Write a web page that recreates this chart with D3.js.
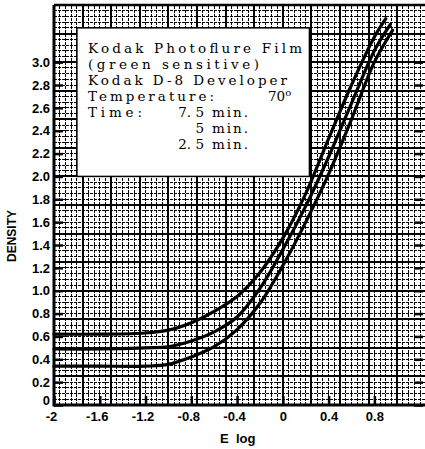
<!DOCTYPE html>
<html>
<head>
<meta charset="utf-8">
<script src="https://cdn.jsdelivr.net/npm/d3@7"></script>
<style>
  body { margin: 0; background: #fff; }
  svg { display: block; }
</style>
</head>
<body>
<div id="chart"></div>
<script>
// tick labels
const xTicks = [-2, -1.6, -1.2, -0.8, -0.4, 0, 0.4, 0.8];
const xTickLabels = ["-2", "-1.6", "-1.2", "-0.8", "-0.4", "0", "0.4", "0.8"];
const yTicks = [0, 0.2, 0.4, 0.6, 0.8, 1.0, 1.2, 1.4, 1.6, 1.8, 2.0, 2.2, 2.4, 2.6, 2.8, 3.0];
const yTickLabels = ["0", "0.2", "0.4", "0.6", "0.8", "1.0", "1.2", "1.4", "1.6", "1.8",
  "2.0", "2.2", "2.4", "2.6", "2.8", "3.0"];

// 7.5 min development
const logE75 = [-2.0, -1.6, -1.2, -1.0, -0.8, -0.6, -0.4, -0.2, 0.0, 0.2, 0.4, 0.6, 0.8, 0.90];
const dens75 = [0.62, 0.62, 0.63, 0.655, 0.72, 0.82, 0.95, 1.16, 1.46, 1.85, 2.33, 2.80, 3.22, 3.38];
// 5 min development
const logE5 = [-2.0, -1.6, -1.2, -1.0, -0.8, -0.6, -0.4, -0.2, 0.0, 0.2, 0.4, 0.6, 0.8, 0.94];
const dens5 = [0.49, 0.49, 0.50, 0.51, 0.56, 0.64, 0.77, 1.02, 1.36, 1.74, 2.17, 2.64, 3.10, 3.33];
// 2.5 min development
const logE25 = [-2.0, -1.6, -1.2, -1.0, -0.8, -0.6, -0.4, -0.2, 0.0, 0.2, 0.4, 0.6, 0.8, 0.96];
const dens25 = [0.34, 0.34, 0.34, 0.355, 0.42, 0.51, 0.66, 0.89, 1.22, 1.60, 2.02, 2.50, 3.00, 3.28];

const legendLines = [
  "Kodak Photoflure Film",
  "(green sensitive)",
  "Kodak D-8 Developer"
];
const times = ["7. 5", "5", "2. 5"];

const W = 425, H = 449;
const svg = d3.select("#chart").append("svg").attr("width", W).attr("height", H);

// scales
const x = d3.scaleLinear().domain([-2, 1.225]).range([54, 423]);
const y = d3.scaleLinear().domain([0, 3.5]).range([405, 5]);

// graph paper grid
const grid = svg.append("g").attr("shape-rendering", "crispEdges");
for (let i = 0; i <= 64; i++) {
  const v = -2 + i * 0.05;
  const major = i % 5 === 0;
  grid.append("line")
    .attr("x1", x(v)).attr("x2", x(v))
    .attr("y1", y(0)).attr("y2", y(3.5))
    .attr("stroke", "#000")
    .attr("stroke-width", major ? 2 : 1)
    .attr("stroke-dasharray", major ? null : "3,1");
}
for (let j = 0; j <= 70; j++) {
  const v = j * 0.05;
  const major = j % 5 === 0;
  grid.append("line")
    .attr("x1", x(-2)).attr("x2", W)
    .attr("y1", y(v)).attr("y2", y(v))
    .attr("stroke", "#000")
    .attr("stroke-width", major ? 2 : 1)
    .attr("stroke-dasharray", major ? null : "3,1");
}

// white label box pasted on the paper
svg.append("rect")
  .attr("x", x(-1.8)).attr("y", y(3.3))
  .attr("width", x(0.25) - x(-1.8) - 2)
  .attr("height", y(2.0) - y(3.3))
  .attr("fill", "#fff")
  .attr("stroke", "#000")
  .attr("stroke-width", 1.5);

// curves
const line = d3.line()
  .x(d => x(d[0]))
  .y(d => y(d[1]))
  .curve(d3.curveCatmullRom.alpha(0.5));

[[logE75, dens75], [logE5, dens5], [logE25, dens25]].forEach(function (s) {
  const pts = s[0].map((v, i) => [v, s[1][i]]);
  svg.append("path")
    .datum(pts)
    .attr("d", line)
    .attr("fill", "none")
    .attr("stroke", "#000")
    .attr("stroke-width", 3.2)
    .attr("stroke-linecap", "round");
});

// axes
const left = svg.append("g")
  .attr("transform", `translate(${x(-2)},0)`)
  .call(d3.axisLeft(y).tickValues(yTicks).tickFormat((d, i) => yTickLabels[i])
    .tickSizeInner(-9).tickSizeOuter(0).tickPadding(4));
left.select(".domain").remove();
left.selectAll("line").attr("stroke-width", 2.5);
left.selectAll("text").attr("dy", d => d === 0 ? "-0.05em" : "0.32em");

svg.append("g")
  .attr("transform", `translate(${W - 2},0)`)
  .call(d3.axisRight(y).tickValues(yTicks).tickFormat("")
    .tickSizeInner(-9).tickSizeOuter(0))
  .call(g => g.select(".domain").remove())
  .selectAll("line").attr("stroke-width", 2.5);

const bottom = svg.append("g")
  .attr("transform", `translate(0,${y(0)})`)
  .call(d3.axisBottom(x).tickValues(xTicks).tickFormat((d, i) => xTickLabels[i])
    .tickSizeInner(-9).tickSizeOuter(0).tickPadding(7));
bottom.select(".domain").remove();
bottom.selectAll("line").attr("stroke-width", 2.5);
bottom.selectAll("text").attr("dx", d => d < 0 ? -3 : 0);

svg.selectAll(".tick text")
  .attr("font-family", "Liberation Sans, Arial, sans-serif")
  .attr("font-weight", "bold")
  .attr("font-size", 13)
  .attr("fill", "#000");

// frame
svg.append("path")
  .attr("d", `M${x(-2)},${y(3.5)}V${y(0)}H${W}`)
  .attr("fill", "none")
  .attr("stroke", "#000")
  .attr("stroke-width", 3);
svg.append("line")
  .attr("x1", x(-2)).attr("x2", W)
  .attr("y1", y(3.5)).attr("y2", y(3.5))
  .attr("stroke", "#000").attr("stroke-width", 2.5);

// axis titles
svg.append("text")
  .attr("transform", "translate(16,236) rotate(-90)")
  .attr("text-anchor", "middle")
  .attr("font-family", "Liberation Sans, Arial, sans-serif")
  .attr("font-weight", "bold")
  .attr("font-size", 12)
  .text("DENSITY");

svg.append("text")
  .attr("x", 220).attr("y", 443)
  .attr("font-family", "Liberation Sans, Arial, sans-serif")
  .attr("font-weight", "bold")
  .attr("font-size", 13)
  .attr("xml:space", "preserve")
  .text("E  log");

// legend text
const legend = svg.append("g")
  .attr("font-family", "DejaVu Serif, Liberation Serif, serif")
  .attr("font-size", 13.5)
  .attr("fill", "#000");

const widths = [214, 171, 199];
legendLines.forEach(function (t, i) {
  legend.append("text")
    .attr("x", 88).attr("y", 53 + i * 16)
    .attr("textLength", widths[i])
    .attr("lengthAdjust", "spacing")
    .text(t);
});

legend.append("text").attr("x", 88).attr("y", 101)
  .attr("textLength", 126).attr("lengthAdjust", "spacing").text("Temperature:");
const temp = legend.append("text").attr("x", 268).attr("y", 101);
temp.append("tspan").text("70");
temp.append("tspan").attr("dy", -5).attr("font-size", 10).text("o");

legend.append("text").attr("x", 88).attr("y", 117)
  .attr("textLength", 54).attr("lengthAdjust", "spacing").text("Time:");

times.forEach(function (t, i) {
  legend.append("text")
    .attr("x", 204).attr("y", 117 + i * 16)
    .attr("text-anchor", "end")
    .attr("xml:space", "preserve")
    .text(t);
  legend.append("text")
    .attr("x", 212).attr("y", 117 + i * 16)
    .attr("textLength", 36).attr("lengthAdjust", "spacing")
    .text("min.");
});
</script>
</body>
</html>
